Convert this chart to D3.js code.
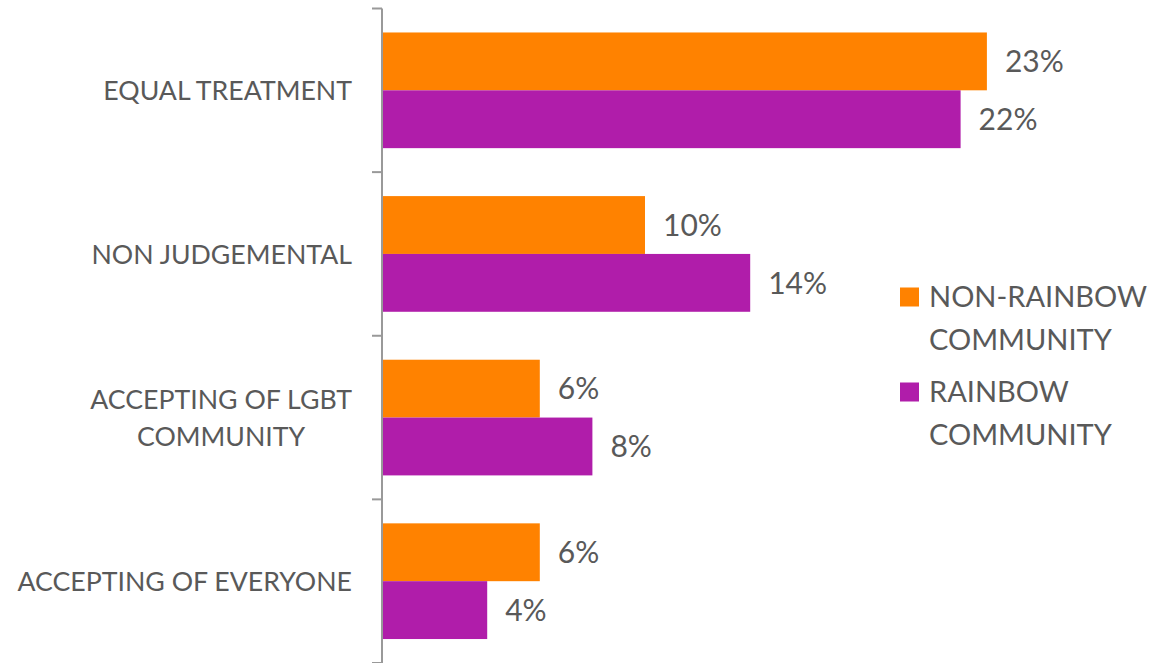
<!DOCTYPE html>
<html>
<head>
<meta charset="utf-8">
<script src="https://cdn.jsdelivr.net/npm/d3@7"></script>
<style>
  html, body { margin: 0; padding: 0; background: #fff; }
  svg { display: block; }
  text { font-family: Lato, "Open Sans", sans-serif; fill: #595959; }
</style>
</head>
<body>
<svg id="chart" width="1153" height="663"></svg>
<script>
// Share of respondents naming each quality, by community
const categories = ["EQUAL TREATMENT", "NON JUDGEMENTAL", "ACCEPTING OF LGBT\nCOMMUNITY", "ACCEPTING OF EVERYONE"];
const seriesNames = ["NON-RAINBOW\nCOMMUNITY", "RAINBOW\nCOMMUNITY"];
const nonRainbow = [23, 10, 6, 6];
const rainbow = [22, 14, 8, 4];
const colors = ["#FF8200", "#B01DAA"];

const svg = d3.select("#chart");
const catFont = 26.7;
const valueFont = 30;
const legendFont = 29;

const axisX = 382;
const x = d3.scaleLinear().domain([0, 1]).range([axisX, axisX + 26.3]);
const y = d3.scaleBand().domain(categories).range([8.5, 663]).paddingInner(0.293).paddingOuter(0.1465);
const band = d3.scaleBand().domain([0, 1]).range([0, y.bandwidth()]);
const bandOuter = d3.scaleBand().domain(categories).range([8.5, 663]);

const series = [nonRainbow, rainbow];

// bars with value labels
const g = svg.append("g");
categories.forEach((c, i) => {
  series.forEach((vals, s) => {
    g.append("rect")
      .attr("x", x(0) + 1)
      .attr("y", y(c) + band(s))
      .attr("width", x(vals[i]) - x(0) - 1)
      .attr("height", band.bandwidth())
      .attr("fill", colors[s]);
    g.append("text")
      .attr("x", x(vals[i]) + 18)
      .attr("y", y(c) + band(s) + band.bandwidth() / 2)
      .attr("dy", "0.36em")
      .attr("font-size", valueFont)
      .text(vals[i] + "%");
  });
});

// category axis with ticks at band boundaries
const axisColor = "#999999";
svg.append("line")
  .attr("x1", axisX).attr("x2", axisX)
  .attr("y1", bandOuter.range()[0]).attr("y2", bandOuter.range()[1])
  .attr("stroke", axisColor).attr("stroke-width", 2);
const tickYs = categories.map(c => bandOuter(c)).concat([bandOuter.range()[1]]);
svg.selectAll("line.tick").data(tickYs).enter().append("line")
  .attr("class", "tick")
  .attr("x1", axisX - 10).attr("x2", axisX)
  .attr("y1", d => d).attr("y2", d => d)
  .attr("stroke", axisColor).attr("stroke-width", 2);

// category labels (right-aligned block, lines centred to each other)
const lineH = 37;
categories.forEach(c => {
  const lines = c.split("\n");
  const cy = y(c) + y.bandwidth() / 2;
  const grp = svg.append("g");
  const texts = lines.map((ln, k) => grp.append("text")
    .attr("font-size", catFont)
    .attr("y", cy + (k - (lines.length - 1) / 2) * lineH)
    .attr("dy", "0.36em")
    .text(ln));
  const widths = texts.map(t => t.node().getComputedTextLength());
  const maxW = Math.max(...widths);
  const right = 352;
  texts.forEach(t => {
    t.attr("x", right - maxW / 2).attr("text-anchor", "middle");
  });
});

// legend
const legendTop = [297, 392];
seriesNames.forEach((name, s) => {
  const lines = name.split("\n");
  svg.append("rect")
    .attr("x", 900).attr("y", legendTop[s] - 9.5)
    .attr("width", 19).attr("height", 19)
    .attr("fill", colors[s]);
  lines.forEach((ln, k) => {
    svg.append("text")
      .attr("x", 929)
      .attr("y", legendTop[s] + k * 43)
      .attr("dy", "0.36em")
      .attr("font-size", legendFont)
      .text(ln);
  });
});
</script>
</body>
</html>
